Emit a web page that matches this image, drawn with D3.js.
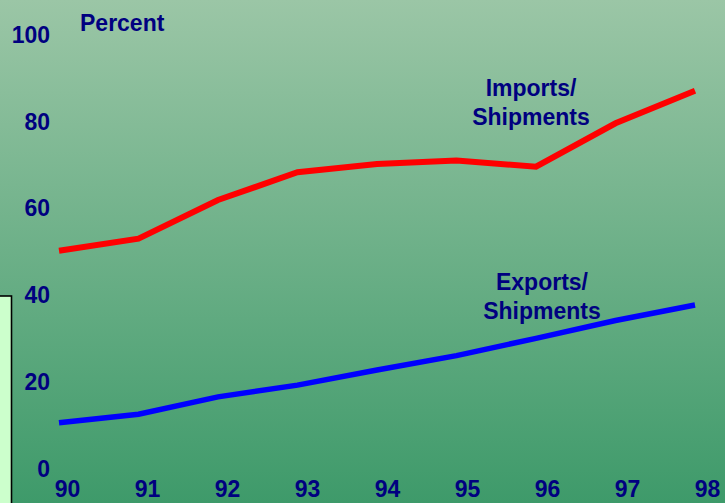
<!DOCTYPE html>
<html>
<head>
<meta charset="utf-8">
<script src="https://cdn.jsdelivr.net/npm/d3@7"></script>
<style>
  html, body { margin: 0; padding: 0; background: #fff; }
  svg { display: block; font-family: "Liberation Sans", Arial, sans-serif; }
</style>
</head>
<body>
<div id="chart"></div>
<script>
// Import and export penetration, percent of shipments, 1990-98.
const years = [90, 91, 92, 93, 94, 95, 96, 97, 98];
const importsShare = [50.0, 52.8, 61.7, 68.1, 70.0, 70.8, 69.4, 79.4, 86.9];
const exportsShare = [10.3, 12.3, 16.3, 19.0, 22.5, 25.8, 29.8, 33.9, 37.5];
const yTicks = [0, 20, 40, 60, 80, 100];

const W = 725, H = 503;
const navy = '#000080';

const svg = d3.select('#chart').append('svg').attr('width', W).attr('height', H);

// Background: vertical gradient, pale sage at top to deeper green at bottom.
const grad = svg.append('defs').append('linearGradient')
  .attr('id', 'bg').attr('x1', 0).attr('y1', 0).attr('x2', 0).attr('y2', 1);
grad.append('stop').attr('offset', '0%').attr('stop-color', '#9bc6a6');
grad.append('stop').attr('offset', '100%').attr('stop-color', '#3e9a6a');
svg.append('rect').attr('width', W).attr('height', H).attr('fill', 'url(#bg)');

// Pale box poking in from the left edge.
svg.append('rect')
  .attr('x', -5).attr('y', 296).attr('width', 16.5).attr('height', 220)
  .attr('fill', '#ccffcc').attr('stroke', '#000').attr('stroke-width', 1.6);

const x = d3.scaleLinear().domain([90, 98]).range([59, 695]);
const xLab = d3.scaleLinear().domain([90, 98]).range([67, 707]);
const y = d3.scaleLinear().domain([0, 100]).range([467.5, 34]);

// Y axis labels (no line, no ticks)
const yAxis = svg.append('g').attr('transform', 'translate(50,0)')
  .call(d3.axisLeft(y).tickValues(yTicks).tickSize(0).tickPadding(0));
yAxis.select('.domain').remove();
yAxis.selectAll('text')
  .attr('fill', navy).style('font-size', '23px').style('font-weight', 'bold')
  .attr('dy', '0.37em');

// X axis labels sit right on the bottom edge
const xAxis = svg.append('g').attr('transform', 'translate(0,497)')
  .call(d3.axisBottom(xLab).tickValues(years).tickFormat(d3.format('d')).tickSize(0).tickPadding(0));
xAxis.select('.domain').remove();
xAxis.selectAll('text')
  .attr('fill', navy).style('font-size', '23px').style('font-weight', 'bold')
  .attr('y', 0).attr('dy', 0);

svg.append('text').attr('x', 80).attr('y', 30.5)
  .attr('fill', navy).style('font-size', '23px').style('font-weight', 'bold')
  .text('Percent');

const line = d3.line().x((d, i) => x(years[i])).y(d => y(d));

svg.append('path').datum(importsShare)
  .attr('d', line).attr('fill', 'none')
  .attr('stroke', '#ff0000').attr('stroke-width', 6).attr('stroke-linejoin', 'miter');

svg.append('path').datum(exportsShare)
  .attr('d', line).attr('fill', 'none')
  .attr('stroke', '#0000ff').attr('stroke-width', 5.5).attr('stroke-linejoin', 'miter');

// Series labels
function label(cx, lines, baseline) {
  const t = svg.append('text').attr('text-anchor', 'middle')
    .attr('fill', navy).style('font-size', '23px').style('font-weight', 'bold');
  lines.forEach((s, i) => {
    t.append('tspan').attr('x', cx).attr('y', baseline + i * 29).text(s);
  });
}
label(531, ['Imports/', 'Shipments'], 96);
label(542, ['Exports/', 'Shipments'], 290);
</script>
</body>
</html>
